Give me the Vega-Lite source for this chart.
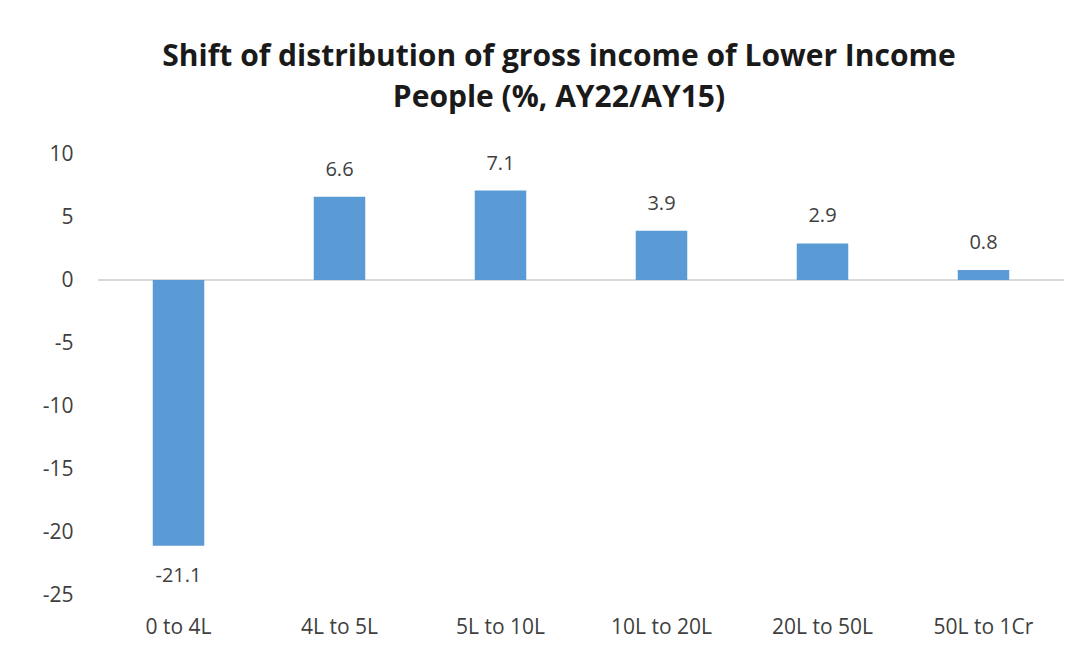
{
  "$schema": "https://vega.github.io/schema/vega-lite/v6.json",
  "autosize": "none",
  "padding": {"left": 98, "top": 154, "right": 26, "bottom": 57},
  "width": 966,
  "height": 441,
  "background": "white",
  "title": {
    "text": ["Shift of distribution of gross income of Lower Income", "People (%, AY22/AY15)"],
    "font": "Open Sans",
    "fontSize": 30,
    "fontWeight": "bold",
    "color": "#1a1a1a",
    "lineHeight": 41,
    "anchor": "middle",
    "dx": -22,
    "offset": 30
  },
  "data": {
    "values": [
      {"range": "0 to 4L", "value": -21.1},
      {"range": "4L to 5L", "value": 6.6},
      {"range": "5L to 10L", "value": 7.1},
      {"range": "10L to 20L", "value": 3.9},
      {"range": "20L to 50L", "value": 2.9},
      {"range": "50L to 1Cr", "value": 0.8}
    ]
  },
  "config": {
    "view": {"stroke": null},
    "axis": {"labelFont": "Open Sans", "labelColor": "#404040", "labelFontSize": 21, "grid": false, "domain": false, "ticks": false, "title": null}
  },
  "layer": [
    {
      "mark": {"type": "rule", "color": "#d9d9d9", "strokeWidth": 1.5},
      "encoding": {"y": {"datum": 0, "type": "quantitative", "scale": {"domain": [-25, 10], "nice": false}}}
    },
    {
      "mark": {"type": "bar", "color": "#5b9bd5"},
      "encoding": {
        "x": {"field": "range", "type": "nominal", "sort": null, "scale": {"paddingInner": 0.68, "paddingOuter": 0.34}, "axis": {"labelAngle": 0, "labelPadding": 21}},
        "y": {"field": "value", "type": "quantitative", "scale": {"domain": [-25, 10], "nice": false}, "axis": {"values": [-25, -20, -15, -10, -5, 0, 5, 10], "labelPadding": 25, "labelExpr": "replace(datum.label, '\u2212', '-')"}}
      }
    },
    {
      "transform": [{"filter": "datum.value >= 0"}],
      "mark": {"type": "text", "font": "Open Sans", "fontSize": 20, "color": "#404040", "baseline": "middle", "yOffset": -27, "text": {"expr": "replace(format(datum.value, '.1f'), '\u2212', '-')"}},
      "encoding": {
        "x": {"field": "range", "type": "nominal", "sort": null},
        "y": {"field": "value", "type": "quantitative"}
      }
    },
    {
      "transform": [{"filter": "datum.value < 0"}],
      "mark": {"type": "text", "font": "Open Sans", "fontSize": 20, "color": "#404040", "baseline": "middle", "yOffset": 30, "text": {"expr": "replace(format(datum.value, '.1f'), '\u2212', '-')"}},
      "encoding": {
        "x": {"field": "range", "type": "nominal", "sort": null},
        "y": {"field": "value", "type": "quantitative"}
      }
    }
  ]
}
